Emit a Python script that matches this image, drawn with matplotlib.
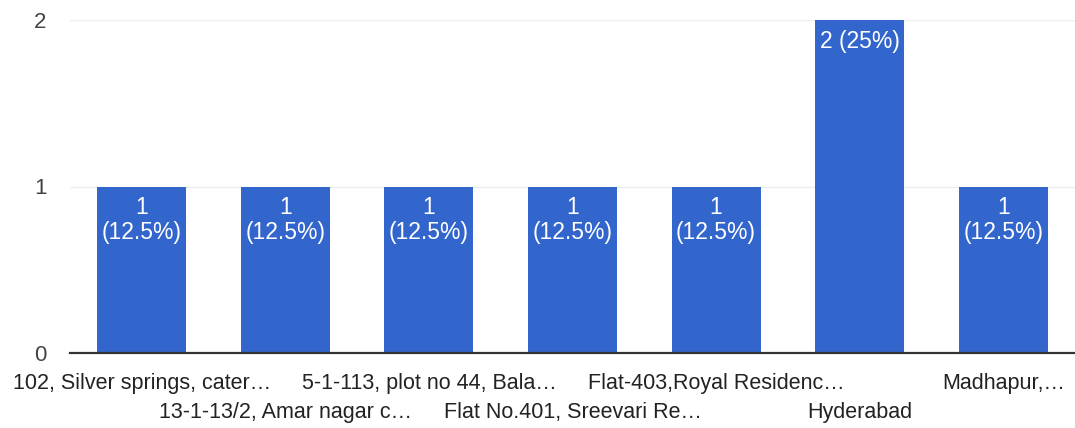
import matplotlib.pyplot as plt

plt.rcParams['font.family'] = ['Liberation Sans', 'DejaVu Sans']

# answers (truncated as shown in the chart) and response counts
labels = [
    "102, Silver springs, cater\u2026",
    "13-1-13/2, Amar nagar c\u2026",
    "5-1-113, plot no 44, Bala\u2026",
    "Flat No.401, Sreevari Re\u2026",
    "Flat-403,Royal Residenc\u2026",
    "Hyderabad",
    "Madhapur,\u2026",
]
counts = [1, 1, 1, 1, 1, 2, 1]
total = sum(counts)
yticks = [0, 1, 2]

fig = plt.figure(figsize=(10.75, 4.28), dpi=100)
ax = fig.add_axes([70 / 1075, 1 - 353 / 428, 1 - 70 / 1075, (353 - 20) / 428])

x = range(len(labels))
bars = ax.bar(x, counts, width=0.62, color='#3366cc', zorder=2)

# value labels inside the top of each bar
for i, (b, c) in enumerate(zip(bars, counts)):
    pct = 100 * c / total
    pct_txt = f"{pct:g}%"
    if c >= 2:
        txt = f"{c} ({pct_txt})"
    else:
        txt = f"{c}\n({pct_txt})"
    ax.annotate(txt, (b.get_x() + b.get_width() / 2, b.get_height()),
                xytext=(0, -7), textcoords='offset points',
                ha='center', va='top', color='white', fontsize=16.5,
                linespacing=1.1)

ax.set_xlim(-0.5, len(labels) - 0.5)
ax.set_ylim(0, 2)
ax.set_yticks(yticks)
ax.set_yticklabels([str(t) for t in yticks])
ax.tick_params(axis='y', length=0, pad=17, labelsize=16, labelcolor='#444444')
ax.tick_params(axis='x', length=0, pad=14.5, labelsize=15.5, labelcolor='#222222')
ax.set_xticks(list(x))
ax.set_xticklabels(labels)

# alternate label rows
for i, t in enumerate(ax.xaxis.get_major_ticks()):
    if i % 2 == 1:
        t.set_pad(14.5 + 20.5)

ax.grid(axis='y', color='#eeeeee', linewidth=1, zorder=0)
ax.set_axisbelow(True)
for s in ['top', 'right', 'left']:
    ax.spines[s].set_visible(False)
ax.spines['bottom'].set_color('#333333')
ax.spines['bottom'].set_linewidth(1.6)
ax.spines['bottom'].set_zorder(3)

fig.savefig('out.png', dpi=100)
